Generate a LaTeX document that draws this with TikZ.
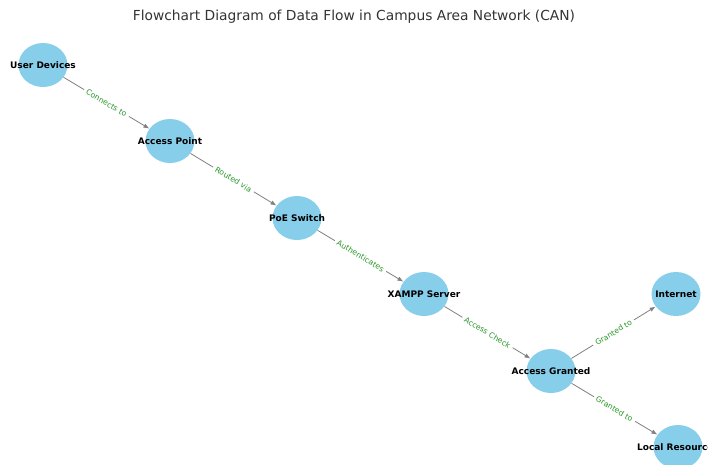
\documentclass[tikz,border=0pt]{standalone}
\usepackage{fontspec}
\setmainfont{DejaVu Sans}
\usetikzlibrary{shapes.geometric,arrows.meta}
\definecolor{skyblue}{RGB}{135,206,235}
\definecolor{flowgreen}{RGB}{40,150,40}
\tikzset{
  netnode/.style={ellipse,fill=skyblue,minimum width=49pt,minimum height=44pt,inner sep=0pt},
  netlabel/.style={font=\bfseries\fontsize{9}{10}\selectfont,inner sep=0pt},
  flow/.style={draw=gray,line width=0.8pt,-{Latex[length=6pt,width=4.5pt]}},
  flowtext/.style={midway,sloped,fill=white,inner xsep=3pt,inner ysep=1pt,text=flowgreen,font=\fontsize{7.7}{9}\selectfont}
}
\begin{document}
\begin{tikzpicture}[x=1pt,y=1pt]
        \useasboundingbox (0,0) rectangle (708,-464);
        \clip (0,0) rectangle (708,-464);
        % title
        \node[font=\fontsize{13.8}{16}\selectfont,text=black!80] (title) at (354,-17) {Flowchart Diagram of Data Flow in Campus Area Network (CAN)};
        
        % nodes
        \node[netnode,label={[netlabel]center:User Devices}] (user) at (43,-65) {};
        \node[netnode,label={[netlabel]center:Access Point}] (ap) at (170,-141) {};
        \node[netnode,label={[netlabel]center:PoE Switch}] (poe) at (297,-218) {};
        \node[netnode,label={[netlabel]center:XAMPP Server}] (xampp) at (424,-294) {};
        \node[netnode,label={[netlabel]center:Access Granted}] (granted) at (551,-371) {};
        \node[netnode,label={[netlabel]center:Internet}] (inet) at (676,-294) {};
        \node[netnode,label={[netlabel]center:Local Resources}] (local) at (678,-447) {};
        
        % edges
        \draw[flow] (user) -- (ap) node[flowtext] {Connects to};
        \draw[flow] (ap) -- (poe) node[flowtext] {Routed via};
        \draw[flow] (poe) -- (xampp) node[flowtext] {Authenticates};
        \draw[flow] (xampp) -- (granted) node[flowtext] {Access Check};
        \draw[flow] (granted) -- (inet) node[flowtext] {Granted to};
        \draw[flow] (granted) -- (local) node[flowtext] {Granted to};
\end{tikzpicture}
\end{document}
